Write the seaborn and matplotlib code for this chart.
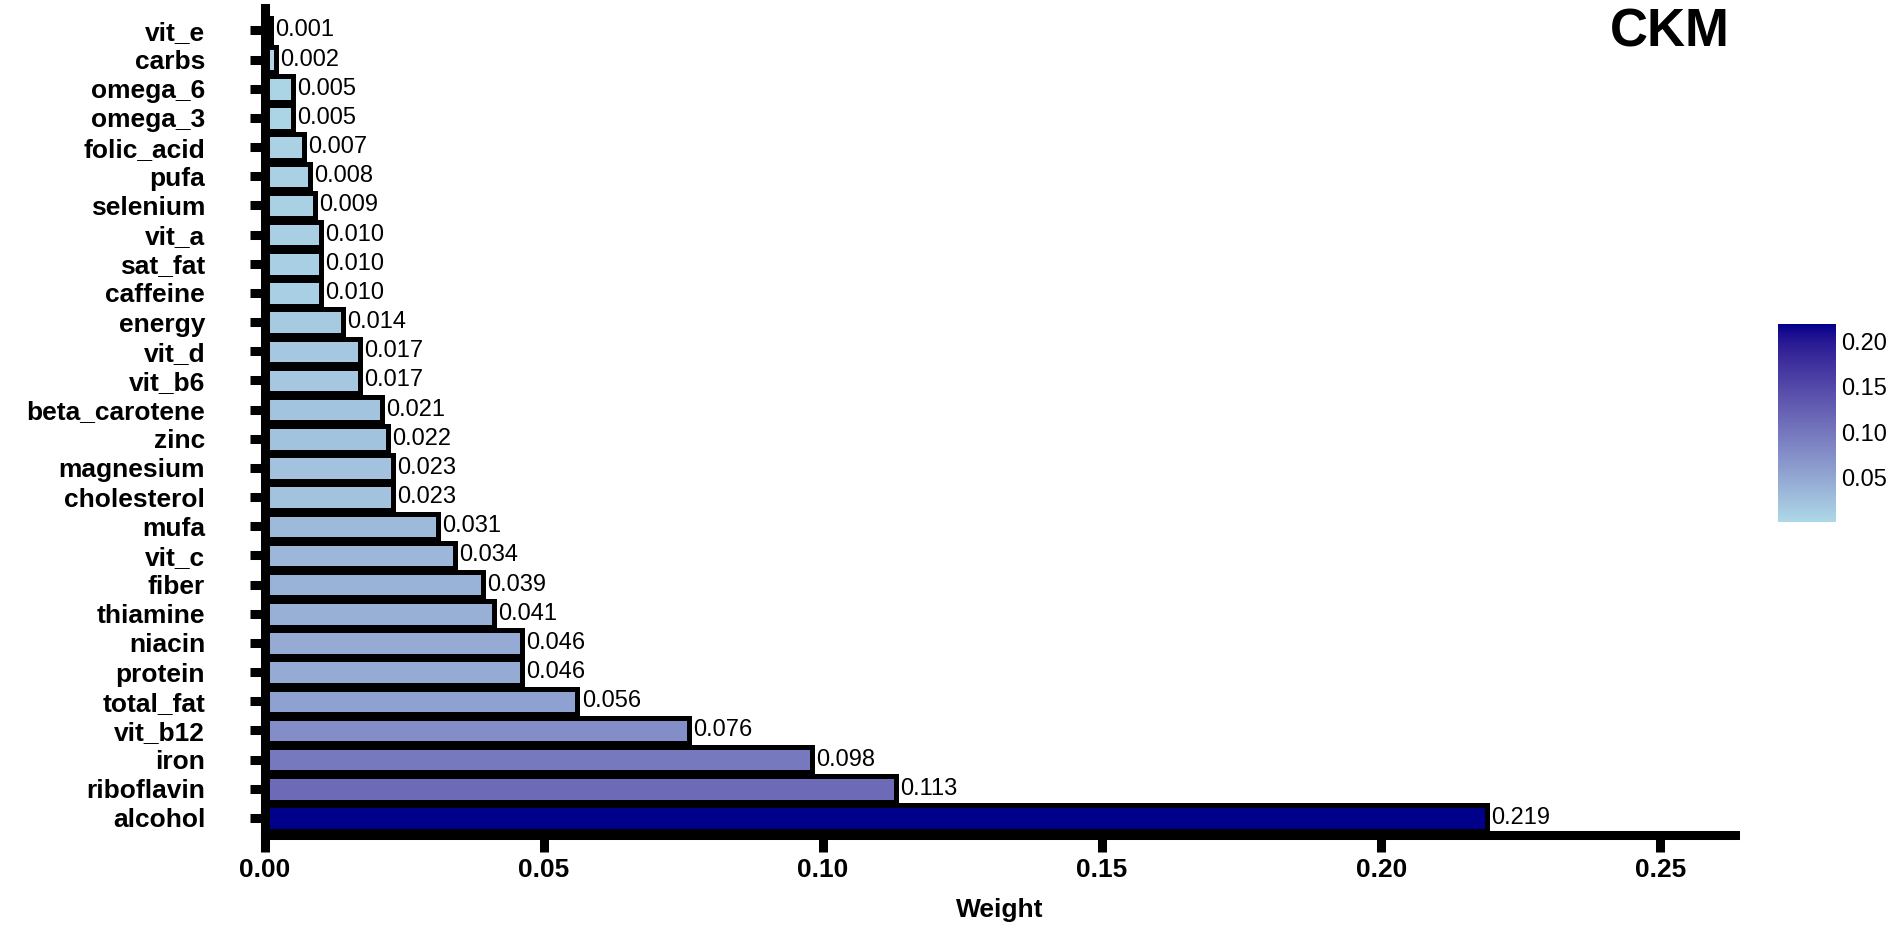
import numpy as np
import pandas as pd
import matplotlib
matplotlib.use("Agg")
import matplotlib.pyplot as plt
import seaborn as sns
from matplotlib.colors import ListedColormap, Normalize, to_rgb
from matplotlib.cm import ScalarMappable

# feature weights (top to bottom)
features = [
    "vit_e", "carbs", "omega_6", "omega_3", "folic_acid", "pufa", "selenium",
    "vit_a", "sat_fat", "caffeine", "energy", "vit_d", "vit_b6",
    "beta_carotene", "zinc", "magnesium", "cholesterol", "mufa", "vit_c",
    "fiber", "thiamine", "niacin", "protein", "total_fat", "vit_b12",
    "iron", "riboflavin", "alcohol",
]
weights = [
    0.001, 0.002, 0.005, 0.005, 0.007, 0.008, 0.009,
    0.010, 0.010, 0.010, 0.014, 0.017, 0.017,
    0.021, 0.022, 0.023, 0.023, 0.031, 0.034,
    0.039, 0.041, 0.046, 0.046, 0.056, 0.076,
    0.098, 0.113, 0.219,
]
cbar_ticks = [0.05, 0.10, 0.15, 0.20]
x_ticks = [0.00, 0.05, 0.10, 0.15, 0.20, 0.25]

df = pd.DataFrame({"feature": features, "weight": weights})


# gradient lightblue -> darkblue interpolated in CIE Lab (like ggplot's gradient)
def srgb_to_lab(rgb):
    c = np.asarray(rgb, dtype=float)
    c = np.where(c <= 0.04045, c / 12.92, ((c + 0.055) / 1.055) ** 2.4)
    m = np.array([[0.4124, 0.3576, 0.1805],
                  [0.2126, 0.7152, 0.0722],
                  [0.0193, 0.1192, 0.9505]])
    xyz = m @ c / np.array([0.95047, 1.0, 1.08883])
    f = np.where(xyz > 0.008856, np.cbrt(xyz), 7.787 * xyz + 16 / 116)
    return np.array([116 * f[1] - 16, 500 * (f[0] - f[1]), 200 * (f[1] - f[2])])


def lab_to_srgb(lab):
    L, a, b = lab
    fy = (L + 16) / 116
    fx = fy + a / 500
    fz = fy - b / 200
    f = np.array([fx, fy, fz])
    xyz = np.where(f ** 3 > 0.008856, f ** 3, (f - 16 / 116) / 7.787)
    xyz = xyz * np.array([0.95047, 1.0, 1.08883])
    m = np.array([[3.2406, -1.5372, -0.4986],
                  [-0.9689, 1.8758, 0.0415],
                  [0.0557, -0.2040, 1.0570]])
    c = m @ xyz
    c = np.where(c <= 0.0031308, 12.92 * c, 1.055 * np.clip(c, 0, None) ** (1 / 2.4) - 0.055)
    return np.clip(c, 0, 1)


lab_lo = srgb_to_lab(to_rgb("lightblue"))
lab_hi = srgb_to_lab(to_rgb("darkblue"))
cmap = ListedColormap([lab_to_srgb(lab_lo + t * (lab_hi - lab_lo))
                       for t in np.linspace(0, 1, 256)])

sns.set_style("white")
plt.rcParams["font.family"] = ["Liberation Sans", "DejaVu Sans"]
plt.rcParams["text.color"] = "black"
plt.rcParams["axes.labelcolor"] = "black"
plt.rcParams["xtick.color"] = "black"
plt.rcParams["ytick.color"] = "black"

norm = Normalize(vmin=df["weight"].min(), vmax=df["weight"].max())
palette = {f: cmap(norm(w)) for f, w in zip(df["feature"], df["weight"])}

fig = plt.figure(figsize=(19.02, 9.38), dpi=100)
ax = fig.add_axes([0.1393, 0.1095, 0.7729, 0.8825])

sns.barplot(
    data=df, x="weight", y="feature", hue="feature", order=features,
    palette=palette, legend=False, width=0.87,
    edgecolor="black", linewidth=3.6, saturation=1, ax=ax,
)

for cont in ax.containers:
    ax.bar_label(cont, fmt="%.3f", padding=3, fontsize=17, color="black")

ax.set_xlim(0, 0.2634)
ax.set_ylim(27.593, -0.788)
ax.set_xticks(x_ticks)
ax.set_xticklabels([f"{t:.2f}" for t in x_ticks], fontsize=19, fontweight="bold")
ax.set_yticks(range(len(features)))
ax.set_yticklabels(features, fontsize=19, fontweight="bold")
ax.set_xlabel("Weight", fontsize=19, fontweight="bold", labelpad=12)
ax.set_ylabel("")

sns.despine(ax=ax)
for side in ["left", "bottom"]:
    ax.spines[side].set_linewidth(6.5)
    ax.spines[side].set_color("black")
ax.tick_params(axis="y", left=True, direction="out", length=11, width=6.5,
               pad=32, color="black", labelcolor="black")
ax.tick_params(axis="x", bottom=True, direction="out", length=12, width=6.5,
               pad=4, color="black", labelcolor="black")

fig.text(0.878, 0.965, "CKM", fontsize=38, fontweight="bold",
         ha="center", va="center", color="black")

# colour bar on the right
cax = fig.add_axes([1778 / 1902, 1 - 522 / 938, 58 / 1902, 198 / 938])
sm = ScalarMappable(norm=norm, cmap=cmap)
cb = fig.colorbar(sm, cax=cax, ticks=cbar_ticks)
cb.outline.set_visible(False)
cb.ax.set_yticklabels([f"{t:.2f}" for t in cbar_ticks], fontsize=17)
cb.ax.tick_params(direction="in", color="white", length=8, width=1.5,
                  left=True, right=True, labelleft=False, labelright=True,
                  labelcolor="black")

fig.savefig("out.png", dpi=100)
